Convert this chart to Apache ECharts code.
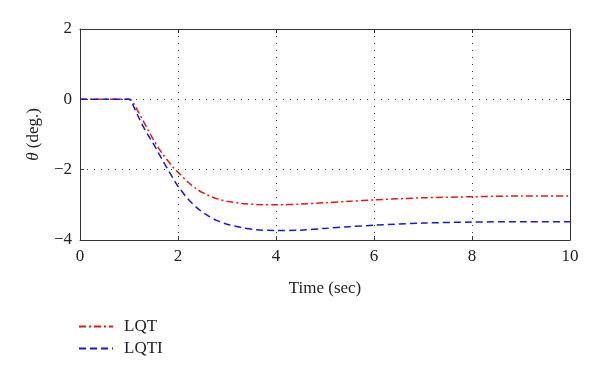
<!DOCTYPE html>
<html><head><meta charset="utf-8">
<script src="https://cdn.jsdelivr.net/npm/echarts@6/dist/echarts.min.js"></script>
<style>html,body{margin:0;padding:0;background:#fff}#c{width:600px;height:385px}</style>
</head><body><div id="c"></div>
<script>
var time = [0, 0.5, 1.0, 1.05, 1.1, 1.2, 1.3, 1.4, 1.5, 1.6, 1.7, 1.8, 1.9, 2.0, 2.2, 2.4, 2.6, 2.8, 3.0, 3.3, 3.6, 4.0, 4.5, 5, 5.5, 6, 7, 8, 9, 10];
var lqt = [0, 0, 0, -0.03, -0.13, -0.38, -0.64, -0.9, -1.15, -1.38, -1.58, -1.76, -1.93, -2.07, -2.35, -2.57, -2.72, -2.83, -2.90, -2.96, -2.99, -3.0, -2.98, -2.94, -2.9, -2.86, -2.8, -2.77, -2.75, -2.75];
var lqti = [0, 0, 0, -0.06, -0.22, -0.52, -0.8, -1.04, -1.27, -1.52, -1.77, -2.01, -2.25, -2.47, -2.83, -3.1, -3.3, -3.45, -3.55, -3.65, -3.71, -3.73, -3.72, -3.67, -3.62, -3.58, -3.52, -3.49, -3.48, -3.48];
var seriesNames = ['LQT', 'LQTI'];
var xTicks = [0, 2, 4, 6, 8, 10];
var yTicks = [-4, -2, 0, 2];

function pairs(xs, ys) { return xs.map(function (x, i) { return [x, ys[i]]; }); }
var font = 'Liberation Serif';
var axisCommon = {
  axisLine: { show: true, onZero: false, lineStyle: { color: '#333' } },
  axisTick: { show: true, inside: true, length: 4, lineStyle: { color: '#333' } }
};
var chart = echarts.init(document.getElementById('c'));
chart.setOption({
  animation: false,
  grid: { left: 80, right: 30, top: 29, bottom: 145 },
  legend: {
    orient: 'vertical', left: 73, top: 313, itemWidth: 34, itemHeight: 10, itemGap: 5,
    itemStyle: { color: 'transparent', borderWidth: 0, opacity: 0 },
    textStyle: { fontFamily: font, fontSize: 17, color: '#222', padding: [0, 0, 0, 6] },
    data: seriesNames
  },
  xAxis: [{
    type: 'value', min: xTicks[0], max: xTicks[xTicks.length - 1], interval: 2,
    name: 'Time (sec)', nameLocation: 'middle', nameGap: 40,
    nameTextStyle: { fontFamily: font, fontSize: 17, color: '#222' },
    axisLine: axisCommon.axisLine, axisTick: axisCommon.axisTick,
    axisLabel: { fontFamily: font, fontSize: 17, color: '#222', margin: 8 },
    splitLine: { show: true, lineStyle: { color: '#333', type: [1, 6], width: 1 } }
  }, {
    type: 'value', position: 'top', min: xTicks[0], max: xTicks[xTicks.length - 1], interval: 2,
    axisLine: axisCommon.axisLine, axisTick: axisCommon.axisTick,
    axisLabel: { show: false }, splitLine: { show: false }
  }],
  yAxis: [{
    type: 'value', min: yTicks[0], max: yTicks[yTicks.length - 1], interval: 2,
    name: '{i|θ} (deg.)', nameLocation: 'middle', nameGap: 38,
    nameTextStyle: { fontFamily: font, fontSize: 17, color: '#222', rich: { i: { fontFamily: font, fontStyle: 'italic', fontSize: 17, color: '#222' } } },
    axisLine: axisCommon.axisLine, axisTick: axisCommon.axisTick,
    axisLabel: { fontFamily: font, fontSize: 17, color: '#222', margin: 8, formatter: function (v) { return String(v).replace('-', '\u2212'); } },
    splitLine: { show: true, lineStyle: { color: '#333', type: [1, 6], width: 1 } }
  }, {
    type: 'value', position: 'right', min: yTicks[0], max: yTicks[yTicks.length - 1], interval: 2,
    axisLine: axisCommon.axisLine, axisTick: axisCommon.axisTick,
    axisLabel: { show: false }, splitLine: { show: false }
  }],
  series: [
    { name: seriesNames[0], type: 'line', data: pairs(time, lqt), showSymbol: false, symbol: 'none', smooth: 0.3,
      lineStyle: { color: '#e01a1a', width: 1.5, type: [7, 3, 2, 3] }, itemStyle: { color: '#e01a1a' } },
    { name: seriesNames[1], type: 'line', data: pairs(time, lqti), showSymbol: false, symbol: 'none', smooth: 0.3,
      lineStyle: { color: '#1a1ad0', width: 1.5, type: [7, 4] }, itemStyle: { color: '#1a1ad0' } }
  ]
});
</script></body></html>
